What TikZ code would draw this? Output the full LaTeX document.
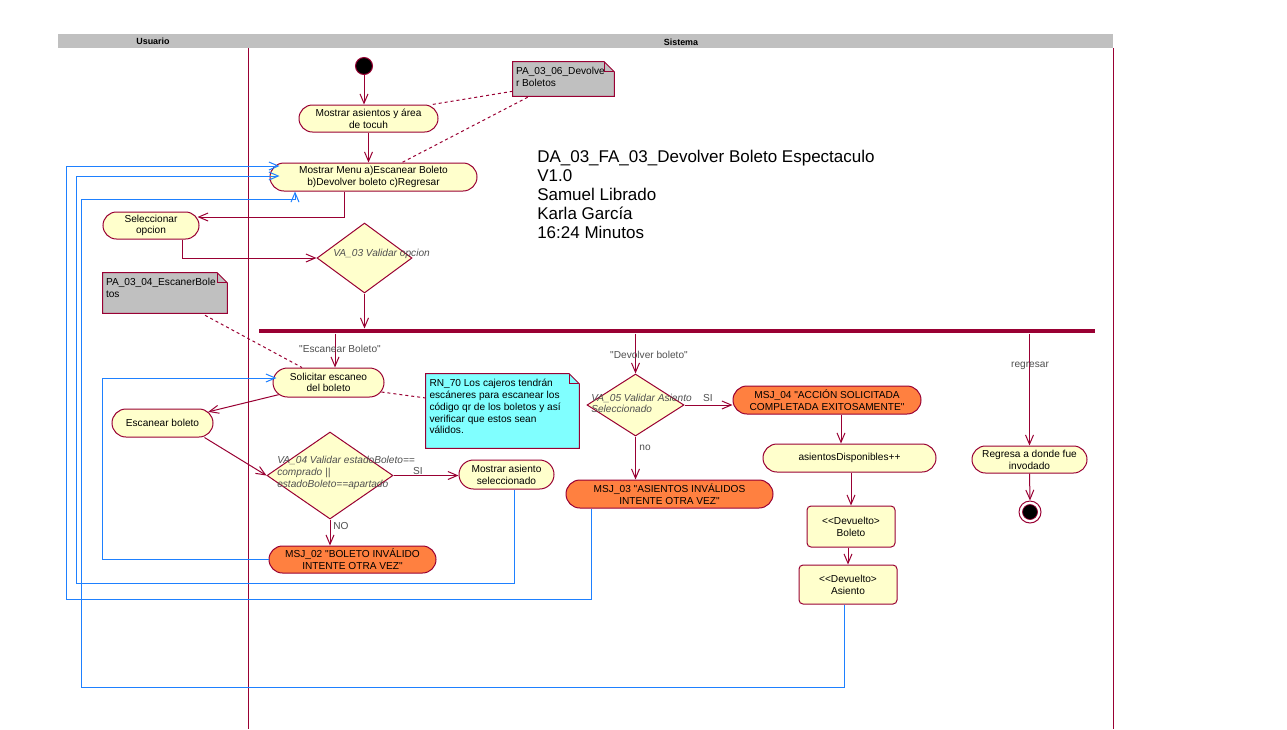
\documentclass[tikz,border=0pt]{standalone}
\usepackage{fontspec}
\newfontfamily\af{Liberation Sans}
\usetikzlibrary{arrows.meta,shapes.misc,shapes.geometric,calc}
\definecolor{rline}{RGB}{153,0,51}
\definecolor{yfill}{RGB}{255,255,204}
\definecolor{orfill}{RGB}{255,128,64}
\definecolor{bline}{RGB}{30,128,255}
\definecolor{ngray}{RGB}{192,192,192}
\definecolor{ncyan}{RGB}{128,255,255}
\definecolor{labgray}{RGB}{80,80,80}
\newcommand\fs{\fontsize{7.6}{8.8}\selectfont}
\newcommand\mynote[2]{%
  \filldraw[fill=#2,draw=rline,line width=0.75pt] (#1.north west) -- ($(#1.north east)+(-10,0)$) -- ($(#1.north east)+(0,10)$) -- (#1.south east) -- (#1.south west) -- cycle;
  \draw[rline,line width=0.75pt] ($(#1.north east)+(-10,0)$) -- ($(#1.north east)+(-10,10)$) -- ($(#1.north east)+(0,10)$);}
\tikzset{
  sz/.style 2 args={minimum width=#1*0.75pt,minimum height=#2*0.75pt},
  act/.style={rounded rectangle, draw=rline, fill=yfill, line width=0.75pt, inner xsep=0pt, inner ysep=1pt, align=center, font=\af\fs},
  msj/.style={act, fill=orfill},
  obj/.style={rectangle, rounded corners=3pt, draw=rline, fill=yfill, line width=0.75pt, inner sep=1pt, align=center, font=\af\fs},
  dec/.style={diamond, draw=rline, fill=yfill, line width=0.75pt, inner sep=0pt},
  flow/.style={draw=rline, line width=0.75pt, -{Straight Barb[length=7pt,width=6pt]}},
  back/.style={draw=bline, line width=0.75pt, -{Straight Barb[length=7pt,width=6pt]}},
  anchorl/.style={draw=rline, line width=0.75pt, dash pattern=on 2.25pt off 2.25pt},
  clab/.style={font=\af\fs, text=labgray, inner sep=0pt},
  dlab/.style={font=\af\fs\itshape, text=labgray, inner sep=0pt, align=left, anchor=north west},
  ntext/.style={font=\af\fs, inner sep=0pt, align=left, anchor=north west},
  nbox/.style={rectangle, inner sep=0pt},
  hlab/.style={font=\af\fontsize{6.7}{8}\selectfont\bfseries, inner sep=0pt},
}
\begin{document}
\begin{tikzpicture}[x=0.75pt,y=-0.75pt]
\useasboundingbox[fill=white] (0,0) rectangle (1287,729);
% header and lanes
\node[fill=ngray, inner sep=0pt, sz={1055}{14}] (hdr) at (585.5,41) {};
\node[hlab] (husr) at (153,41.5) {Usuario};
\node[hlab] (hsys) at (681,42) {Sistema};
\draw[rline, line width=0.75pt] (248,48) -- (248,729);
\draw[rline, line width=0.75pt] (1113,48) -- (1113,729);
% title
\node[anchor=north west, align=left, inner sep=0pt, font=\af\fontsize{12.75}{14.25}\selectfont] (title) at (537,150)
  {DA\_03\_FA\_03\_Devolver Boleto Espectaculo\\V1.0\\Samuel Librado\\Karla García\\16:24 Minutos};
% nodes
\node[circle, fill=black, draw=rline, line width=0.75pt, minimum size=17*0.75pt, inner sep=0pt] (start) at (364,66) {};
\node[act, sz={139}{27}] (asientos) at (368.5,118.5) {Mostrar asientos y área\\de tocuh};
\node[act, sz={207}{28}] (menu) at (373.5,177) {Mostrar Menu a)Escanear Boleto\\b)Devolver boleto c)Regresar};
\node[act, sz={96}{27}] (sel) at (151,225.5) {Seleccionar\\opcion};
\node[dec, sz={95}{70}] (va03) at (364.5,258) {};
\node[dlab] (va03l) at (333,248.5) {VA\_03 Validar opcion};
\node[fill=rline, inner sep=0pt, sz={836}{4.5}] (bar) at (677,331) {};
\node[act, sz={111}{29}] (solic) at (328.5,382.5) {Solicitar escaneo\\del boleto};
\node[act, sz={101}{28}] (escb) at (162.5,423) {Escanear boleto};
\node[dec, sz={126}{87}] (va04) at (330,475.5) {};
\node[dlab] (va04l) at (277,456) {VA\_04 Validar estadoBoleto==\\comprado ||\\estadoBoleto==apartado};
\node[act, sz={95}{29}] (mostas) at (506.5,474.5) {Mostrar asiento\\seleccionado};
\node[msj, sz={167}{27}] (msj02) at (352.5,559.5) {MSJ\_02 "BOLETO INVÁLIDO\\INTENTE OTRA VEZ"};
\node[dec, sz={97}{62}] (va05) at (635.5,405) {};
\node[dlab] (va05l) at (591,393.5) {VA\_05 Validar Asiento\\Seleccionado};
\node[msj, sz={207}{28}] (msj03) at (669.5,494) {MSJ\_03 "ASIENTOS INVÁLIDOS\\INTENTE OTRA VEZ"};
\node[msj, sz={188}{28}] (msj04) at (827,400) {MSJ\_04 "ACCIÓN SOLICITADA\\COMPLETADA EXITOSAMENTE"};
\node[act, sz={173}{28}] (asdisp) at (849.5,458) {asientosDisponibles++};
\node[obj, sz={88}{41}] (devbol) at (851,526.5) {<\kern0pt<Devuelto>\\Boleto};
\node[obj, sz={98}{39}] (devasi) at (848,584.5) {<\kern0pt<Devuelto>\\Asiento};
\node[act, sz={115}{27}] (regresa) at (1029.5,459.5) {Regresa a donde fue\\invodado};
\node[circle, draw=rline, fill=white, line width=0.75pt, minimum size=22*0.75pt, inner sep=0pt] (endo) at (1030,512) {};
\node[circle, fill=black, draw=rline, line width=0.5pt, minimum size=15*0.75pt, inner sep=0pt] (endi) at (endo) {};
% notes
\node[nbox, sz={101}{34}] (pa6) at (563.5,79) {};
\mynote{pa6}{ngray}
\node[ntext] (pa6t) at ($(pa6.north west)+(3,5)$) {PA\_03\_06\_Devolve\\r Boletos};
\node[nbox, sz={124}{40}] (pa4) at (165,293) {};
\mynote{pa4}{ngray}
\node[ntext] (pa4t) at ($(pa4.north west)+(3,5.5)$) {PA\_03\_04\_EscanerBole\\tos};
\node[nbox, sz={153}{74}] (rn) at (502.5,411) {};
\mynote{rn}{ncyan}
\node[ntext] (rnt) at ($(rn.north west)+(3.5,5.5)$) {RN\_70 Los cajeros tendrán\\escáneres para escanear los\\código qr de los boletos y así\\verificar que estos sean\\válidos.};
% flows
\draw[flow] (start.south) -- (start.south |- asientos.north);
\draw[flow] (asientos.south) -- (asientos.south |- menu.north);
\draw[flow] ($(menu.south)+(-29.5,0)$) |- ($(sel.east)+(-2,-8.5)$);
\draw[flow] ($(sel.south)+(31,0)$) |- (va03.west);
\draw[flow] (va03.south) -- (va03.south |- bar.north);
\coordinate (s1) at ($(solic.north)+(6.5,0)$);
\draw[flow] (bar.south -| s1) -- (s1);
\node[clab] (lesc) at (340,349) {"Escanear Boleto"};
\draw[flow] (solic) -- (escb);
\draw[flow] ($(escb.south)+(42,0)$) -- (va04.west);
\draw[flow] (va04.east) -- (va04.east -| mostas.west);
\node[clab] (lsi1) at (418,471) {SI};
\draw[flow] (va04.south) -- (va04.south |- msj02.north);
\node[clab] (lno1) at (341,526) {NO};
\draw[flow] (bar.south -| va05.north) -- (va05.north);
\node[clab] (ldev) at (649,355) {"Devolver boleto"};
\draw[flow] (va05.east) -- (va05.east -| msj04.west);
\node[clab] (lsi2) at (708,398) {SI};
\draw[flow] (va05.south) -- (va05.south |- msj03.north);
\node[clab] (lno2) at (645,448) {no};
\coordinate (m4) at ($(msj04.south)+(14,0)$);
\draw[flow] (m4) -- (m4 |- asdisp.north);
\draw[flow] (devbol.north |- asdisp.south) -- (devbol.north);
\draw[flow] (devasi.north |- devbol.south) -- (devasi.north);
\draw[flow] (bar.south -| regresa.north) -- (regresa.north);
\node[clab] (lreg) at (1030,366) {regresar};
\draw[flow] (regresa.south) -- (endo.north);
% note anchors
\draw[anchorl] ($(pa6.south west)+(0,-5)$) -- ($(asientos.north)+(63.5,0)$);
\draw[anchorl] ($(pa6.south west)+(15,1)$) -- ($(menu.north)+(28.5,0)$);
\draw[anchorl] ($(pa4.south)+(40,2)$) -- ($(solic.north)+(-26.5,0)$);
\draw[anchorl] ($(solic.east)+(-3,9.5)$) -- ($(rn.west)+(0,-13)$);
% blue returns
\draw[back] (msj02.west) -| (102,378) -- ($(solic.west)+(4,-4.5)$);
\draw[back] ($(mostas.south)+(7.5,0)$) |- (76,583) |- ($(menu.west)+(10,-1)$);
\draw[back] ($(msj03.south)+(-78.5,0)$) |- (66,599) |- ($(menu.west)+(10,-11)$);
\draw[back] ($(devasi.south)+(-4,0)$) |- (81,687) |- (295,199) -- ($(menu.south)+(-78.5,0)$);
\end{tikzpicture}
\end{document}
